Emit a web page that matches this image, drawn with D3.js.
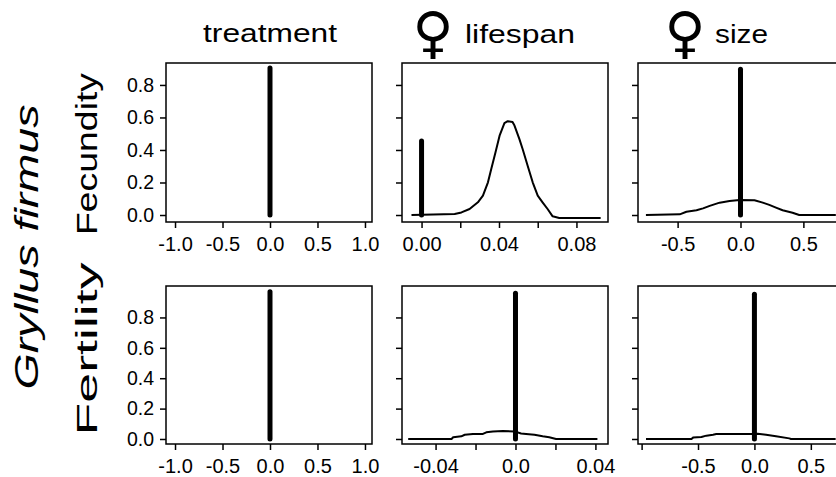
<!DOCTYPE html>
<html><head><meta charset="utf-8">
<script src="https://cdn.jsdelivr.net/npm/d3@7"></script>
<style>
body{margin:0;background:#fff}
svg{display:block}
text{font-family:"Liberation Sans",Arial,sans-serif;fill:#000}
</style>
</head><body>
<svg id="chart" width="836" height="477"></svg>
<script>
// ---------------- DATA ----------------
const columnTitles = ["treatment", "lifespan", "size"];
const femaleSymbol = "\u2640";
const rowLabels = ["Fecundity", "Fertility"];
const speciesLabel = ["Gryllus", "firmus"];

const yTicks = [0, 0.2, 0.4, 0.6, 0.8];
const yTickLabels = ["0.0", "0.2", "0.4", "0.6", "0.8"];

const xTicksTreatment = [-1, -0.5, 0, 0.5, 1];
const xLabelsTreatment = ["-1.0", "-0.5", "0.0", "0.5", "1.0"];
const xTicksLifespanFec = [0, 0.02, 0.04, 0.06, 0.08];
const xLabelsLifespanFec = ["0.00", "", "0.04", "", "0.08"];
const xTicksLifespanFer = [-0.04, -0.02, 0, 0.02, 0.04];
const xLabelsLifespanFer = ["-0.04", "", "0.0", "", "0.04"];
const xTicksSizeFec = [-0.5, 0, 0.5];
const xLabelsSizeFec = ["-0.5", "0.0", "0.5"];
const xTicksSizeFer = [-1, -0.5, 0, 0.5];
const xLabelsSizeFer = ["", "-0.5", "0.0", "0.5"];

// posterior mass at exactly zero (spike heights), per column
const spikeFecundity = [0.905, 0.455, 0.897];
const spikeFertility = [0.969, 0.96, 0.953];

// non-zero posterior densities (scaled)
const lifespanFecX = [-0.0052, 0.0171, 0.0206, 0.0248, 0.0291, 0.0317, 0.0343, 0.036, 0.0382, 0.0403, 0.0428, 0.0445, 0.047, 0.048, 0.0505, 0.0522, 0.0548, 0.0574, 0.06, 0.0625, 0.0651, 0.0677, 0.0711, 0.0925];
const lifespanFecY = [0, 0.006, 0.016, 0.037, 0.078, 0.119, 0.201, 0.283, 0.386, 0.488, 0.565, 0.577, 0.572, 0.55, 0.468, 0.406, 0.303, 0.201, 0.119, 0.078, 0.037, -0.008, -0.018, -0.018];

const sizeFecX = [-0.752, -0.483, -0.43, -0.35, -0.298, -0.245, -0.166, -0.087, -0.008, 0.111, 0.177, 0.229, 0.282, 0.335, 0.414, 0.467, 0.758];
const sizeFecY = [0, 0.004, 0.02, 0.029, 0.041, 0.056, 0.076, 0.086, 0.093, 0.091, 0.076, 0.062, 0.045, 0.029, 0.014, 0, 0];

const lifespanFerX = [-0.0537, -0.032, -0.0312, -0.0271, -0.0254, -0.0213, -0.0163, -0.0146, -0.0113, -0.0063, -0.0005, 0.0028, 0.0053, 0.0095, 0.0136, 0.0169, 0.0203, 0.041];
const lifespanFerY = [0, 0, 0.011, 0.0175, 0.028, 0.033, 0.033, 0.044, 0.05, 0.053, 0.05, 0.036, 0.033, 0.028, 0.0175, 0.011, 0, 0];

const sizeFerX = [-0.961, -0.558, -0.544, -0.47, -0.426, -0.367, -0.338, -0.22, -0.015, 0.029, 0.103, 0.191, 0.309, 0.324, 0.72];
const sizeFerY = [0, 0, 0.009, 0.013, 0.022, 0.028, 0.033, 0.033, 0.033, 0.035, 0.028, 0.018, 0.004, 0, 0];

// ---------------- LAYOUT ----------------
const svg = d3.select("#chart");
const colLeft = [166, 402, 638];
const panelW = 206;
const rowTop = [63, 286];
const rowBottom = [222, 444];
const rowYDomain = [[-0.043, 0.935], [-0.033, 1.007]];

const panels = [
  {r:0, c:0, xd:[-1.095, 1.074], ticks:xTicksTreatment, labels:xLabelsTreatment, spike:spikeFecundity[0], cx:null, cy:null},
  {r:0, c:1, xd:[-0.0101, 0.0963], ticks:xTicksLifespanFec, labels:xLabelsLifespanFec, spike:spikeFecundity[1], cx:lifespanFecX, cy:lifespanFecY},
  {r:0, c:2, xd:[-0.815, 0.823], ticks:xTicksSizeFec, labels:xLabelsSizeFec, spike:spikeFecundity[2], cx:sizeFecX, cy:sizeFecY},
  {r:1, c:0, xd:[-1.095, 1.074], ticks:xTicksTreatment, labels:xLabelsTreatment, spike:spikeFertility[0], cx:null, cy:null},
  {r:1, c:1, xd:[-0.0568, 0.0463], ticks:xTicksLifespanFer, labels:xLabelsLifespanFer, spike:spikeFertility[1], cx:lifespanFerX, cy:lifespanFerY},
  {r:1, c:2, xd:[-1.032, 0.794], ticks:xTicksSizeFer, labels:xLabelsSizeFer, spike:spikeFertility[2], cx:sizeFerX, cy:sizeFerY}
];

panels.forEach(p => {
  const x = d3.scaleLinear().domain(p.xd).range([colLeft[p.c], colLeft[p.c] + panelW]);
  const y = d3.scaleLinear().domain(rowYDomain[p.r]).range([rowBottom[p.r], rowTop[p.r]]);
  const g = svg.append("g");

  if (p.cx) {
    const pts = p.cx.map((v, i) => [v, p.cy[i]]);
    g.append("path").datum(pts)
      .attr("d", d3.line().x(d => x(d[0])).y(d => y(d[1])))
      .attr("fill", "none").attr("stroke", "#000").attr("stroke-width", 2)
      .attr("stroke-linejoin", "round");
  }
  g.append("line")
    .attr("x1", x(0)).attr("x2", x(0)).attr("y1", y(0)).attr("y2", y(p.spike))
    .attr("stroke", "#000").attr("stroke-width", 5).attr("stroke-linecap", "round");

  g.append("rect")
    .attr("x", x.range()[0]).attr("y", rowTop[p.r])
    .attr("width", panelW).attr("height", rowBottom[p.r] - rowTop[p.r])
    .attr("fill", "none").attr("stroke", "#000").attr("stroke-width", 1.5);

  const xa = g.append("g").attr("transform", `translate(0,${rowBottom[p.r]})`)
    .call(d3.axisBottom(x).tickValues(p.ticks).tickSize(6).tickPadding(9)
      .tickFormat((d, i) => p.labels[i]));
  xa.select(".domain").remove();
  xa.selectAll("line").attr("stroke-width", 1.5);
  xa.selectAll("text").attr("font-size", 20).attr("font-family", "Liberation Sans, Arial, sans-serif");

  const ya = g.append("g").attr("transform", `translate(${x.range()[0]},0)`)
    .call(d3.axisLeft(y).tickValues(yTicks).tickSize(6).tickPadding(6)
      .tickFormat((d, i) => p.c === 0 ? yTickLabels[i] : ""));
  ya.select(".domain").remove();
  ya.selectAll("line").attr("stroke-width", 1.5);
  ya.selectAll("text").attr("font-size", 19.5).attr("font-family", "Liberation Sans, Arial, sans-serif");
});

// column titles
svg.append("text").attr("x", 270).attr("y", 42).attr("text-anchor", "middle")
  .attr("font-size", 26).attr("textLength", 134).attr("lengthAdjust", "spacingAndGlyphs")
  .text(columnTitles[0]);
const symX = [null, 433, 685];
const wordX = [null, 465, 715];
const wordLen = [null, 110, 53];
[1, 2].forEach(c => {
  svg.append("text").attr("x", symX[c]).attr("y", 52).attr("text-anchor", "middle")
    .attr("font-size", 56).style("font-family", "DejaVu Sans").text(femaleSymbol);
  svg.append("text").attr("x", wordX[c]).attr("y", 43)
    .attr("font-size", 26).attr("textLength", wordLen[c]).attr("lengthAdjust", "spacingAndGlyphs")
    .text(columnTitles[c]);
});

// row labels (rotated; horizontal scale thins the glyph height)
const rowLabelY = [154, 349];
const rowLabelLen = [162, 173];
const rowLabelSize = [37, 44];
const rowLabelScale = [0.78, 0.69];
rowLabels.forEach((t, i) => {
  svg.append("text").attr("transform", `translate(97,${rowLabelY[i]}) scale(${rowLabelScale[i]},1) rotate(-90)`)
    .attr("text-anchor", "middle").attr("font-size", rowLabelSize[i])
    .attr("textLength", rowLabelLen[i]).attr("lengthAdjust", "spacingAndGlyphs")
    .text(t);
});

// species label
svg.append("text").attr("transform", "translate(38,247) scale(0.88,1) rotate(-90)")
  .attr("text-anchor", "middle").attr("font-size", 38).attr("font-style", "italic")
  .attr("textLength", 285).attr("lengthAdjust", "spacingAndGlyphs")
  .text(speciesLabel.join(" "));
</script>
</body></html>
